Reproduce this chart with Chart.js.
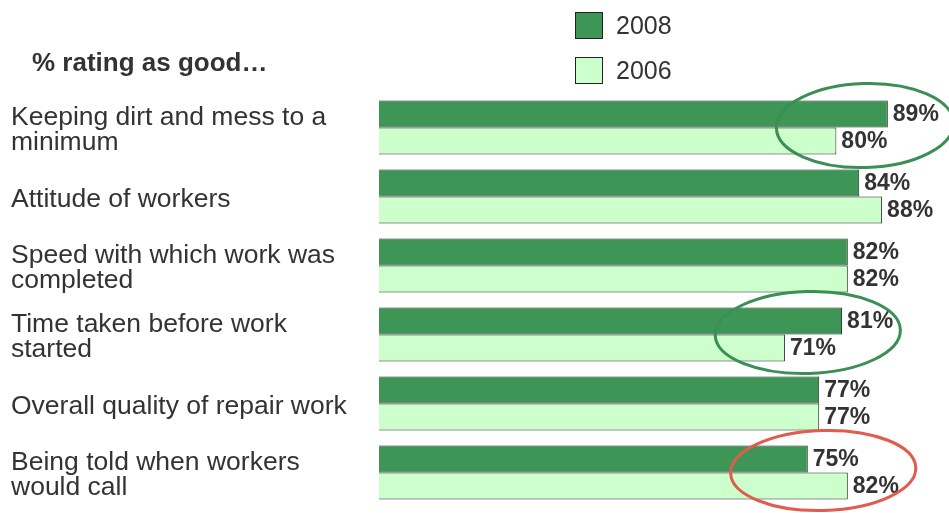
<!DOCTYPE html>
<html>
<head>
<meta charset="utf-8">
<script src="https://cdn.jsdelivr.net/npm/chart.js@4.4.1/dist/chart.umd.min.js"></script>
<style>
  html, body { margin: 0; padding: 0; background: #fff; }
  #wrap { position: relative; width: 949px; height: 513px; }
</style>
</head>
<body>
<div id="wrap"><canvas id="myChart" width="949" height="513"></canvas></div>
<script>
const categories = [
  ['Keeping dirt and mess to a', 'minimum'],
  'Attitude of workers',
  ['Speed with which work was', 'completed'],
  ['Time taken before work', 'started'],
  'Overall quality of repair work',
  ['Being told when workers', 'would call']
];
const values2008 = [89, 84, 82, 81, 77, 75];
const values2006 = [80, 88, 82, 71, 77, 82];
const seriesNames = ['2008', '2006'];
const chartTitle = '% rating as good\u2026';

// highlight rings: category index, centre value, radius in value units / px
const highlights = [
  { index: 0, value: 85, rx: 15.5, ry: 42, color: '#3a8f55' },
  { index: 3, value: 75, rx: 16.2, ry: 41, color: '#3a8f55' },
  { index: 5, value: 77.7, rx: 16.2, ry: 40, color: '#e15b4f' }
];

const FONT = '"Liberation Sans", Arial, Helvetica, sans-serif';
const TEXT = '#333333';

const extrasPlugin = {
  id: 'extras',
  afterDatasetsDraw(chart) {
    const ctx = chart.ctx;
    const xs = chart.scales.x, ys = chart.scales.y;
    // value labels
    ctx.save();
    ctx.font = 'bold 23px ' + FONT;
    ctx.fillStyle = TEXT;
    ctx.textBaseline = 'middle';
    ctx.textAlign = 'left';
    chart.data.datasets.forEach((ds, di) => {
      chart.getDatasetMeta(di).data.forEach((bar, i) => {
        ctx.fillText(ds.data[i] + '%', bar.x + 5, bar.y + 1);
      });
    });
    ctx.restore();

    // rings
    ctx.save();
    ctx.lineWidth = 3;
    highlights.forEach(h => {
      const cx = xs.getPixelForValue(h.value);
      const rx = xs.getPixelForValue(h.value + h.rx) - cx;
      const cy = ys.getPixelForValue(h.index) - 2;
      ctx.strokeStyle = h.color;
      ctx.beginPath();
      ctx.ellipse(cx, cy, rx, h.ry, -0.03, 0, Math.PI * 2);
      ctx.stroke();
    });
    ctx.restore();

    // title
    ctx.save();
    ctx.font = 'bold 26px ' + FONT;
    ctx.fillStyle = TEXT;
    ctx.textBaseline = 'middle';
    ctx.fillText(chartTitle, 32, 64);

    // legend
    ctx.font = '25px ' + FONT;
    chart.data.datasets.forEach((ds, di) => {
      const y = 12 + di * 45;
      ctx.fillStyle = ds.backgroundColor;
      ctx.fillRect(575, y, 27, 26);
      ctx.strokeStyle = '#222';
      ctx.lineWidth = 1;
      ctx.strokeRect(575.5, y + 0.5, 27, 26);
      ctx.fillStyle = TEXT;
      ctx.fillText(ds.label, 616, y + 15);
    });
    ctx.restore();
  }
};

new Chart(document.getElementById('myChart'), {
  type: 'bar',
  data: {
    labels: categories,
    datasets: [
      { label: seriesNames[0], data: values2008, backgroundColor: '#3d9655', borderColor: '#1e2a20', borderWidth: 1 },
      { label: seriesNames[1], data: values2006, backgroundColor: '#ccffcc', borderColor: '#1e2a20', borderWidth: 1 }
    ]
  },
  options: {
    indexAxis: 'y',
    responsive: false,
    animation: false,
    layout: { padding: { left: 11, right: 4, top: 93, bottom: 6 } },
    datasets: { bar: { barPercentage: 1, categoryPercentage: 0.78 } },
    plugins: { legend: { display: false }, tooltip: { enabled: false } },
    scales: {
      x: { display: false, min: 0, max: 99 },
      y: {
        grid: { display: false, drawBorder: false },
        border: { display: false },
        afterFit(scale) {
          scale.width = 368;
          scale.paddingTop = 0;
          scale.paddingBottom = 0;
        },
        ticks: {
          crossAlign: 'far',
          labelOffset: 3,
          color: TEXT,
          font: { family: FONT, size: 26.5, lineHeight: 0.95 }
        }
      }
    }
  },
  plugins: [extrasPlugin]
});
</script>
</body>
</html>
